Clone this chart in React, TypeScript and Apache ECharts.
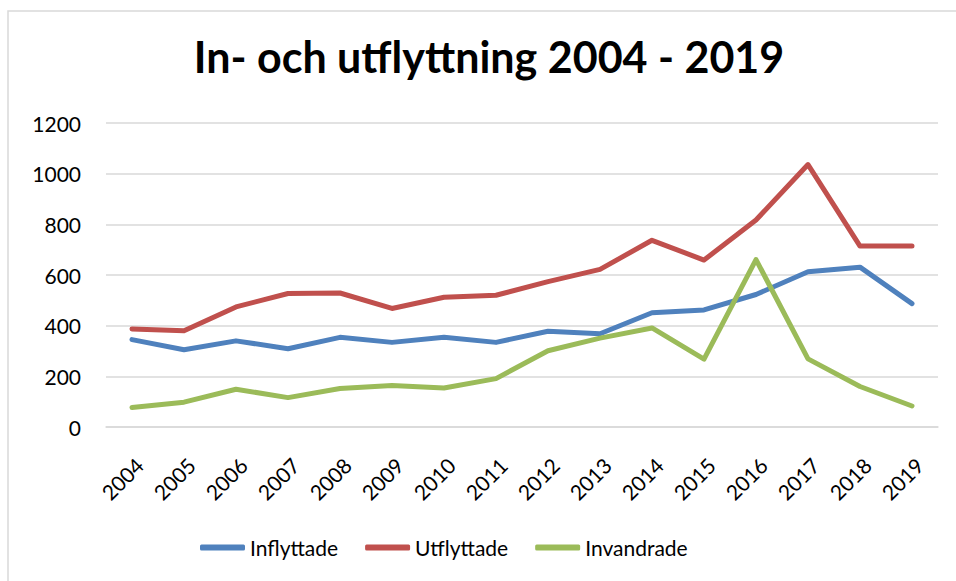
import React, { useEffect, useRef } from "react";
import * as echarts from "echarts";

const years = ["2004","2005","2006","2007","2008","2009","2010","2011","2012","2013","2014","2015","2016","2017","2018","2019"];
const inflyttade = [345, 305, 340, 309, 354, 334, 354, 334, 378, 368, 451, 462, 523, 613, 631, 487];
const utflyttade = [387, 380, 474, 527, 529, 468, 512, 520, 574, 622, 737, 659, 817, 1036, 714, 714];
const invandrade = [77, 98, 149, 116, 152, 164, 154, 191, 301, 351, 391, 268, 661, 269, 160, 83];
const yTicks = { min: 0, max: 1200, interval: 200 };

const FONT = "Lato, 'DejaVu Sans', sans-serif";

export default function App() {
  const ref = useRef<HTMLDivElement>(null);
  useEffect(() => {
    if (!ref.current) return;
    const chart = echarts.init(ref.current, undefined, { renderer: "svg" });
    chart.setOption({
      animation: false,
      backgroundColor: "#ffffff",
      title: {
        text: "In- och utflyttning 2004 - 2019",
        left: 489,
        textAlign: "center",
        top: 35,
        padding: 0,
        textStyle: { fontFamily: FONT, fontWeight: "bold", fontSize: 43, color: "#000000" },
      },
      graphic: [
        {
          type: "rect",
          shape: { x: 8, y: 11, width: 1000, height: 700 },
          style: { fill: "none", stroke: "#D9D9D9", lineWidth: 1.5 },
          silent: true,
          z: -1,
        },
      ],
      grid: { left: 106, right: 18, top: 123, bottom: 154, containLabel: false },
      legend: {
        left: 195,
        top: 532,
        icon: "roundRect",
        itemWidth: 45,
        itemHeight: 6,
        itemGap: 27,
        textStyle: { fontFamily: FONT, fontSize: 21, color: "#000000" },
        data: ["Inflyttade", "Utflyttade", "Invandrade"],
      },
      xAxis: {
        type: "category",
        data: years,
        boundaryGap: true,
        axisLine: { show: true, lineStyle: { color: "#D9D9D9", width: 1.5 } },
        axisTick: { show: false },
        axisLabel: {
          rotate: 45,
          margin: 27,
          verticalAlign: "top",
          fontFamily: FONT,
          fontSize: 21,
          color: "#000000",
          interval: 0,
        },
      },
      yAxis: {
        type: "value",
        min: yTicks.min,
        max: yTicks.max,
        interval: yTicks.interval,
        axisLine: { show: false },
        axisTick: { show: false },
        splitLine: { lineStyle: { color: "#D9D9D9", width: 1.5 } },
        axisLabel: {
          margin: 25,
          fontFamily: FONT,
          fontSize: 21,
          color: "#000000",
          formatter: (v: number) => String(v),
        },
      },
      series: [
        {
          name: "Inflyttade",
          type: "line",
          data: inflyttade,
          symbol: "none",
          lineStyle: { color: "#4F81BD", width: 5, cap: "round", join: "round" },
          itemStyle: { color: "#4F81BD" },
        },
        {
          name: "Utflyttade",
          type: "line",
          data: utflyttade,
          symbol: "none",
          lineStyle: { color: "#C0504D", width: 5, cap: "round", join: "round" },
          itemStyle: { color: "#C0504D" },
        },
        {
          name: "Invandrade",
          type: "line",
          data: invandrade,
          symbol: "none",
          lineStyle: { color: "#9BBB59", width: 5, cap: "round", join: "round" },
          itemStyle: { color: "#9BBB59" },
        },
      ],
    });
    return () => chart.dispose();
  }, []);
  return (
    <div
      ref={ref}
      style={{ position: "fixed", left: 0, top: 0, width: 956, height: 581 }}
    />
  );
}
